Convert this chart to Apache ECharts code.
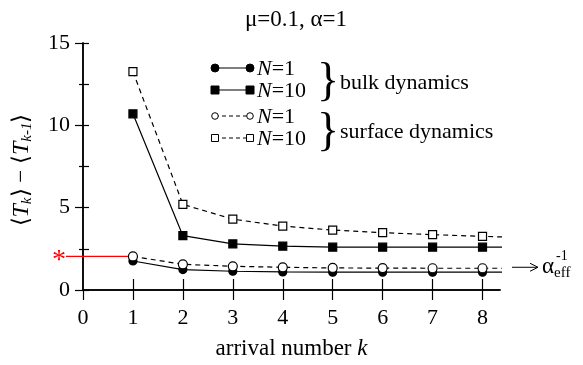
<!DOCTYPE html>
<html><head><meta charset="utf-8">
<script src="https://cdn.jsdelivr.net/npm/echarts@6/dist/echarts.min.js"></script>
<style>html,body{margin:0;padding:0;background:#fff}#c{width:583px;height:365px}</style>
</head><body><div id="c"></div>
<script>
// data (k = 9 extends lines to the frame edge; clipped)
var k = [1, 2, 3, 4, 5, 6, 7, 8, 9];
var bulkN1 = [1.76, 1.24, 1.14, 1.1, 1.08, 1.08, 1.08, 1.08, 1.08];
var bulkN10 = [10.7, 3.3, 2.8, 2.66, 2.6, 2.6, 2.6, 2.6, 2.6];
var surfN1 = [2.04, 1.56, 1.44, 1.38, 1.34, 1.33, 1.32, 1.32, 1.32];
var surfN10 = [13.26, 5.2, 4.3, 3.88, 3.64, 3.48, 3.36, 3.26, 3.16];
var xTicks = [0, 1, 2, 3, 4, 5, 6, 7, 8];
var yTicks = [0, 5, 10, 15];
var asymptote = 1.38;

var FONT = 'Liberation Serif';
var chart = echarts.init(document.getElementById('c'), null, {renderer: 'canvas'});
function pairs(arr) { return k.map(function (x, i) { return [x, arr[i]]; }); }
function mk(name, data, symbol, filled, dashed, size) {
  return {
    name: name, type: 'line', data: pairs(data), symbol: symbol, symbolSize: size,
    clip: true, z: 3,
    lineStyle: {color: '#000', width: 1.2, type: dashed ? [5, 4] : 'solid'},
    itemStyle: {color: filled ? '#000' : '#fff', borderColor: '#000', borderWidth: 1.2},
    emphasis: {disabled: true}
  };
}
var axisLine = {show: true, lineStyle: {color: '#000', width: 1.5}};
var option = {
  animation: false,
  title: {text: 'μ=0.1, α=1', left: 291, top: 3, textAlign: 'center',
    textStyle: {fontFamily: FONT, fontSize: 23, fontWeight: 'normal', color: '#000'}},
  grid: {left: 83, right: 83, top: 43, bottom: 72},
  xAxis: [
    {type: 'value', min: 0, max: 8.35, interval: 1, position: 'bottom',
      axisLine: axisLine, splitLine: {show: false},
      axisTick: {show: true, length: 10, inside: false, customValues: xTicks, lineStyle: {color: '#000', width: 1.2}},
      axisLabel: {show: true, customValues: xTicks, margin: 17, fontFamily: FONT, fontSize: 22, color: '#000'},
      name: 'arrival number {i|k}', nameLocation: 'middle', nameGap: 47,
      nameTextStyle: {fontFamily: FONT, fontSize: 23, color: '#000',
        rich: {i: {fontFamily: FONT, fontSize: 23, fontStyle: 'italic', color: '#000'}}}},
    {type: 'value', min: 0, max: 8.35, interval: 1, position: 'top',
      axisLine: axisLine, splitLine: {show: false},
      axisTick: {show: true, length: 11, inside: false, customValues: xTicks.slice(1), lineStyle: {color: '#000', width: 1.2}},
      axisLabel: {show: false}}
  ],
  yAxis: [
    {type: 'value', min: 0, max: 15, interval: 5, position: 'left',
      axisLine: axisLine, splitLine: {show: false},
      axisTick: {show: true, length: 8, lineStyle: {color: '#000', width: 1.2}},
      minorTick: {show: true, splitNumber: 2, length: 4, lineStyle: {color: '#000', width: 1.2}},
      axisLabel: {show: true, margin: 13, fontFamily: FONT, fontSize: 22, color: '#000',
        formatter: function (v) { return yTicks.indexOf(v) >= 0 ? String(v) : ''; }}},
    {type: 'value', min: 0, max: 15, interval: 2.5, position: 'right',
      axisLine: axisLine, splitLine: {show: false},
      axisTick: {show: true, length: 6, lineStyle: {color: '#000', width: 1.2}},
      axisLabel: {show: false}}
  ],
  series: [
    mk('bulk N=1', bulkN1, 'circle', true, false, 8),
    mk('bulk N=10', bulkN10, 'rect', true, false, 8),
    mk('surface N=1', surfN1, 'circle', false, true, 9),
    mk('surface N=10', surfN10, 'rect', false, true, 8)
  ]
};
chart.setOption(option);

// overlay annotations
var g = [];
// y-axis title (rotated)
g.push({type: 'text', x: 22, y: 170, rotation: Math.PI / 2,
  style: {text: '{a|⟨}{t|T}{s|k}{a|⟩ − ⟨}{t|T}{s|k-1}{a|⟩}', align: 'center', verticalAlign: 'middle',
    rich: {
      a: {fontFamily: FONT, fontSize: 23, fill: '#000'},
      t: {fontFamily: FONT, fontSize: 24, fontStyle: 'italic', fill: '#000'},
      s: {fontFamily: FONT, fontSize: 15, fontStyle: 'italic', fill: '#000', verticalAlign: 'bottom', padding: [11, 0, 0, 0]}
    }}});
// red marker line
var p1 = chart.convertToPixel({xAxisIndex: 0, yAxisIndex: 0}, [k[0], surfN1[0]]);
g.push({type: 'line', shape: {x1: 66, y1: p1[1], x2: p1[0], y2: p1[1]}, style: {stroke: '#ff0000', lineWidth: 1.2}, z: 2});
g.push({type: 'text', x: 59, y: p1[1] + 4, style: {text: '*', fontFamily: FONT, fontSize: 28, fill: '#ff0000', align: 'center', verticalAlign: 'middle'}});
// right arrow
var pa = chart.convertToPixel({xAxisIndex: 0, yAxisIndex: 0}, [8.35, asymptote]);
g.push({type: 'line', shape: {x1: 512, y1: pa[1], x2: 537, y2: pa[1]}, style: {stroke: '#000', lineWidth: 1}});
g.push({type: 'polyline', shape: {points: [[530, pa[1] - 4], [538, pa[1]], [530, pa[1] + 4]]}, style: {stroke: '#000', lineWidth: 1, fill: null}});
g.push({type: 'text', x: 542, y: pa[1], style: {text: 'α{s|eff}', fontFamily: FONT, fontSize: 23, fill: '#000', verticalAlign: 'middle',
  rich: {s: {fontFamily: FONT, fontSize: 15, fill: '#000', padding: [12, 0, 0, 0]}}}});
g.push({type: 'text', x: 556, y: pa[1] - 11, style: {text: '-1', fontFamily: FONT, fontSize: 14, fill: '#000', verticalAlign: 'middle'}});
// legend
var rows = [
  {y: 68, sym: 'circle', fill: true, dash: false},
  {y: 90, sym: 'rect', fill: true, dash: false},
  {y: 116, sym: 'circle', fill: false, dash: true},
  {y: 138, sym: 'rect', fill: false, dash: true}
];
var labels = ['1', '10', '1', '10'];
rows.forEach(function (r, i) {
  g.push({type: 'line', shape: {x1: 215, y1: r.y, x2: 250, y2: r.y}, style: {stroke: '#000', lineWidth: 1.2, lineDash: r.dash ? [4, 3] : null}});
  [215, 250].forEach(function (x) {
    if (r.sym === 'circle') {
      g.push({type: 'circle', shape: {cx: x, cy: r.y, r: r.fill ? 4 : 3.3}, style: {fill: r.fill ? '#000' : '#fff', stroke: '#000', lineWidth: 1}});
    } else {
      var s = r.fill ? 8 : 7;
      g.push({type: 'rect', shape: {x: x - s / 2, y: r.y - s / 2, width: s, height: s}, style: {fill: r.fill ? '#000' : '#fff', stroke: '#000', lineWidth: 1}});
    }
  });
  g.push({type: 'text', x: 257, y: r.y + 1, style: {text: '{i|N}=' + labels[i], fontFamily: FONT, fontSize: 22, fill: '#000', verticalAlign: 'middle',
    rich: {i: {fontFamily: FONT, fontSize: 22, fontStyle: 'italic', fill: '#000'}}}});
});
g.push({type: 'text', x: 328, y: 83, style: {text: '}', fontFamily: FONT, fontSize: 46, fill: '#000', align: 'center', verticalAlign: 'middle'}});
g.push({type: 'text', x: 328, y: 133, style: {text: '}', fontFamily: FONT, fontSize: 46, fill: '#000', align: 'center', verticalAlign: 'middle'}});
g.push({type: 'text', x: 340, y: 83, style: {text: 'bulk dynamics', fontFamily: FONT, fontSize: 22, fill: '#000', verticalAlign: 'middle'}});
g.push({type: 'text', x: 340, y: 132, style: {text: 'surface dynamics', fontFamily: FONT, fontSize: 22, fill: '#000', verticalAlign: 'middle'}});
chart.setOption({graphic: g});
</script>
</body></html>
